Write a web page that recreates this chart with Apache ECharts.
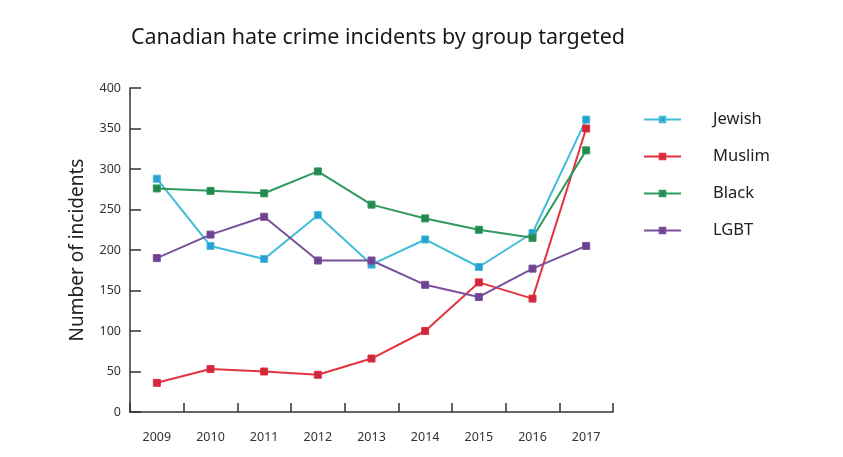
<!DOCTYPE html>
<html>
<head>
<meta charset="utf-8">
<script src="https://cdn.jsdelivr.net/npm/echarts@6/dist/echarts.min.js"></script>
<style>
  html, body { margin: 0; padding: 0; background: #fff; }
  #chart { width: 843px; height: 457px; }
</style>
</head>
<body>
<div id="chart"></div>
<script>
// data
var years = ['2009', '2010', '2011', '2012', '2013', '2014', '2015', '2016', '2017']
var jewish = [288, 205, 189, 243, 182, 213, 179, 221, 361]
var muslim = [36, 53, 50, 46, 66, 100, 160, 140, 350]
var black = [276, 273, 270, 297, 256, 239, 225, 215, 323]
var lgbt = [190, 219, 241, 187, 187, 157, 142, 177, 205]

var font = '"Noto Sans", "Open Sans", sans-serif'

function makeSeries (name, data, lineColor, markColor) {
  return {
    name: name,
    type: 'line',
    data: data,
    symbol: 'rect',
    symbolSize: 7,
    showSymbol: true,
    lineStyle: { color: lineColor, width: 2 },
    itemStyle: { color: markColor, borderColor: lineColor, borderWidth: 1 },
    z: 3
  }
}

var myChart = echarts.init(document.getElementById('chart'))
myChart.setOption({
  animation: false,
  backgroundColor: '#fff',
  title: {
    text: 'Canadian hate crime incidents by group targeted',
    left: 373,
    textAlign: 'center',
    top: 22,
    textStyle: { fontFamily: font, fontSize: 21.5, fontWeight: 'normal', color: '#1a1a1a' }
  },
  legend: {
    orient: 'vertical',
    left: 638,
    top: 106,
    itemWidth: 37,
    itemHeight: 7,
    itemGap: 20,
    textStyle: { fontFamily: font, fontSize: 16.5, color: '#222', padding: [0, 0, 0, 27] },
    data: ['Jewish', 'Muslim', 'Black', 'LGBT']
  },
  grid: { left: 130, right: 230, top: 88, bottom: 45 },
  xAxis: {
    type: 'category',
    data: years,
    boundaryGap: true,
    axisLine: { lineStyle: { color: '#333', width: 1.5 } },
    axisTick: { show: true, inside: true, length: 9, lineStyle: { color: '#333', width: 1.5 } },
    axisLabel: { fontFamily: font, fontSize: 12.5, color: '#333', margin: 19 }
  },
  yAxis: {
    type: 'value',
    min: 0,
    max: 400,
    interval: 50,
    name: 'Number of incidents',
    nameLocation: 'middle',
    nameGap: 43,
    nameTextStyle: { fontFamily: font, fontSize: 19, color: '#222' },
    splitLine: { show: false },
    axisLine: { show: true, lineStyle: { color: '#333', width: 1.5 } },
    axisTick: { show: true, inside: true, length: 11, lineStyle: { color: '#333', width: 1.5 } },
    axisLabel: { fontFamily: font, fontSize: 12.5, color: '#333', margin: 9 }
  },
  series: [
    makeSeries('Jewish', jewish, '#41bcd9', '#2b9fd2'),
    makeSeries('Muslim', muslim, '#e33240', '#d0273a'),
    makeSeries('Black', black, '#2f9a5d', '#25884f'),
    makeSeries('LGBT', lgbt, '#7a509a', '#6d4290')
  ]
})
</script>
</body>
</html>
